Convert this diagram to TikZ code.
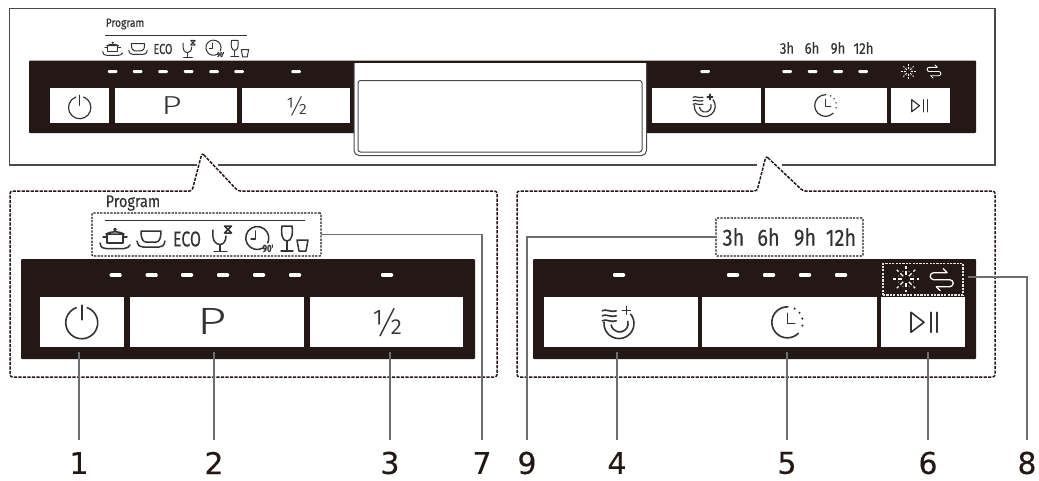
\documentclass[tikz,border=0pt]{standalone}
\usepackage{fontspec}
\setmainfont{Liberation Sans}
\newfontfamily\numfont[FakeBold=.2]{DejaVu Sans}
\newfontfamily\panelfont[FakeStretch=.85,FakeBold=.3]{Fira Sans}
\newfontfamily\narrowfont[FakeStretch=.74,FakeBold=.3]{Fira Sans}
\newfontfamily\lightfont{Fira Sans Light}
\newfontfamily\wideP[FakeStretch=1.35]{Fira Sans Light}
\newcommand{\fsz}[1]{\fontsize{#1}{#1}\selectfont}
\definecolor{ink}{HTML}{231815}
\definecolor{frame}{HTML}{4A4A4A}
\definecolor{leader}{HTML}{6E6E6E}
\definecolor{tx}{HTML}{333333}
% \rectnode[style]{name}{x1}{y1}{x2}{y2}
\newcommand{\rectnode}[6][]{\node[inner sep=0,outer sep=0,minimum width={#5-#3},minimum height={#6-#4},#1] (#2) at ({(#3+#5)/2},{(#4+#6)/2}) {};}
\tikzset{
  outline/.style={draw=frame,line width=1.2pt},
  calloutline/.style={draw=ink,line width=1.5pt,dash pattern=on 3.2pt off 1.3pt,rounded corners=2.5pt},
  bar/.style={fill=ink,rounded corners=1pt},
  btn/.style={fill=white},
  led/.style={fill=white,rounded corners=1pt,inner sep=0,minimum width=12pt,minimum height=3.6pt},
  ledsmall/.style={led,minimum width=9.5pt,minimum height=3pt},
  lead/.style={draw=leader,line width=1.1pt},
  num/.style={font=\numfont\fsz{30},text=ink,inner sep=0,minimum height=46pt,minimum width=20pt,anchor=center},
  tinybox/.style={draw=ink,line width=1.1pt,dash pattern=on 2.2pt off 1.2pt,rounded corners=1pt},
  whitebox/.style={draw=white!90!black,line width=1.1pt,dash pattern=on 2.2pt off 1.2pt},
  picflip/.style={yscale=-1},
  iconlow/.style={picflip,draw=tx,line width=1.5pt,line cap=round,line join=round},
  icontop/.style={picflip,draw=tx,line width=1pt,line cap=round,line join=round,scale=.66},
  keylow/.style={picflip,draw=tx,line width=1.6pt,line cap=round,line join=round},
  keytop/.style={picflip,draw=tx,line width=1.2pt,line cap=round,line join=round,scale=.7},
  pics/poticon/.style={code={
    \draw[pic actions] (-9,-5) .. controls (-4,-8) and (4,-8) .. (9,-5) -- cycle;
    \draw[pic actions] (-8,-5) -- (-8,4) -- (8,4) -- (8,-5);
    \draw[pic actions] (-12,-2) -- (-8,-2) (8,-2) -- (12,-2);
    \draw[pic actions] (0,-9.5) circle (1);
    \draw[pic actions] (-15,4) .. controls (-14,9) and (-12,9.5) .. (-9,9.5) -- (9,9.5) .. controls (12,9.5) and (14,8) .. (15,6);
  }},
  pics/bowlicon/.style={code={
    \draw[pic actions] (-10,-8) -- (10,-8) .. controls (10,0) and (8,3) .. (5,3) -- (-5,3) .. controls (-8,3) and (-10,0) .. (-10,-8);
    \draw[pic actions] (-14,2) .. controls (-13,7) and (-11,8) .. (-8,8) -- (8,8) .. controls (11,8) and (13,7) .. (14,2);
  }},
  pics/glassicon/.style={code={
    \draw[pic actions] (-9,-9) .. controls (-10,1) and (-7,5.5) .. (-2,5.5) .. controls (1.5,5.5) and (4,2) .. (4,-3);
    \draw[pic actions] (-2,5.5) -- (-2,12) (-8,12.5) -- (5,12.5);
    \draw[pic actions] (2.5,-13) -- (9.5,-6) (9.5,-13) -- (2.5,-6) (3,-13) -- (9,-13) (3,-6) -- (9,-6);
  }},
  pics/clockninety/.style={code={
    \draw[pic actions] (5,8) arc[start angle=60,end angle=385,radius=11.5];
    \draw[pic actions] (-2.5,-9) -- (-2.5,-1) -- (-7,-1);
    \node[inner sep=0,text=tx,font=\narrowfont\bfseries\fsz{#1}] at (10,8.5) {90'};
  }},
  pics/glassesicon/.style={code={
    \draw[pic actions] (-13,-13) -- (-3,-13) .. controls (-2,-5) and (-3,2) .. (-8,2) .. controls (-13,2) and (-14,-5) .. (-13,-13) -- cycle;
    \draw[pic actions] (-8,2) -- (-8,11.5) (-14,12) -- (-2,12);
    \draw[pic actions] (2,1) -- (13,1) -- (11,12) -- (4,12) -- cycle;
  }},
  pics/powericon/.style={code={
    \draw[pic actions] (0,-17.5) -- (0,-3);
    \draw[pic actions] (5.5,-15) arc[start angle=-70,end angle=250,radius=16];
  }},
  pics/rinseicon/.style={code={
    \foreach \yy in {-12.5,-7.5,-2.5}
      \draw[pic actions] (-17,\yy) .. controls (-13,{\yy-2.5}) and (-10,{\yy+2}) .. (-3,\yy);
    \draw[pic actions] (7,-17) -- (7,-9) (3,-13) -- (11,-13);
    \draw[pic actions] (11.5,-9) arc[start angle=-38,end angle=185,radius=15];
    \draw[pic actions] (8.5,-2) arc[start angle=-15,end angle=170,radius=8.5];
  }},
  pics/clockicon/.style={code={
    \draw[pic actions] (11,11) arc[start angle=45,end angle=272,radius=15.5];
    \foreach \aa in {-62,-38,-14,12}
      \fill[tx] (\aa:15.5) circle (1.2);
    \draw[pic actions] (0,-9) -- (0,1) -- (7.5,1);
  }},
  pics/playicon/.style={code={
    \draw[pic actions] (-13,-10) -- (-13,10) -- (0,0) -- cycle;
    \draw[pic actions] (6.7,-10) -- (6.7,10) (12.7,-10) -- (12.7,10);
  }},
  pics/sunicon/.style={code={
    \foreach \aa in {0,45,...,315}
      \draw[draw=white,line width=#1] (\aa:4) -- (\aa:8) (\aa:10.5) -- (\aa:13);
    \foreach \aa in {22.5,67.5,...,337.5}
      \fill[white] (\aa:8) circle (.5);
  }},
  pics/loopicon/.style={code={
    \draw[draw=white,line width=#1,line cap=round,line join=round] (5,-7) -- (-8,-7) arc[start angle=270,end angle=90,radius=3.5] -- (8,0) arc[start angle=-90,end angle=90,radius=3.5] -- (-5,7);
    \draw[draw=white,line width=#1,line cap=round,line join=round] (1.5,-11) -- (5.5,-7) (-1.5,11) -- (-5.5,7);
  }},
}
\begin{document}
\begin{tikzpicture}[x=1pt,y=1pt,yscale=-1]
\useasboundingbox (0,0) rectangle (1039,480);
% top frame
\draw[outline] (197,165) -- (9.5,165) -- (9.5,8.5) -- (995,8.5) -- (995,165) -- (782,165);
\draw[outline] (218,165) -- (757,165);
% top panel
\rectnode[bar]{topbar}{29}{60.5}{976}{133}
\draw[fill=white,draw=frame,line width=1pt,rounded corners=5pt] (354,63) -- (354,155.5) -- (646.5,155.5) -- (646.5,63);
\fill[white] (354.6,63) rectangle (646,70);
\rectnode[draw=frame,line width=1pt,fill=white,rounded corners=2.5pt]{display}{358}{80.5}{642}{152}
\rectnode[btn]{tb1}{50}{87.5}{109}{122.5}
\rectnode[btn]{tb2}{114.5}{87.5}{237}{122.5}
\rectnode[btn]{tb3}{242}{87.5}{350}{122.5}
\rectnode[btn]{tb4}{652}{87.5}{761}{122.5}
\rectnode[btn]{tb5}{764.5}{87.5}{887}{122.5}
\rectnode[btn]{tb6}{891}{87.5}{950}{122.5}
\foreach \x [count=\i] in {112.7,137.7,163,188.7,214,239,296,705,787,812.5,838,863}
  \node[ledsmall] (tl\i) at (\x,71.5) {};
\node[inner sep=0,text=tx,font=\panelfont\fsz{12}] (tprog) at (125,24) {Program};
\draw[draw=tx,line width=.9pt] (105,35) -- (247,35);
\pic[icontop] at (112.7,49) {poticon};
\pic[icontop] at (138,49) {bowlicon};
\node[inner sep=0,text=tx,font=\narrowfont\fsz{14.5}] (teco) at (163,49) {ECO};
\pic[icontop] at (189,49) {glassicon};
\pic[icontop] at (214,49) {clockninety=7};
\pic[icontop] at (240,49) {glassesicon};
\foreach \x/\t/\n in {787/3h/a,812/6h/b,838/9h/c,863.5/12h/d}
  \node[inner sep=0,text=tx,font=\panelfont\fsz{15.5}] (th\n) at (\x,48) {\t};
\pic[keytop] at (79.7,107.5) {powericon};
\node[inner sep=0,text=tx,font=\wideP\fsz{26}] (tp) at (171.7,106) {P};
\node[inner sep=0,text=tx,font=\lightfont\fsz{24}] (th) at (296.7,106) {½};
\pic[keytop] at (705,106) {rinseicon};
\pic[keytop] at (825.5,105.5) {clockicon};
\pic[keytop,scale=.86] at (919.5,105.7) {playicon};
\pic[picflip,scale=.55] at (908.5,71.5) {sunicon=.8pt};
\pic[picflip,scale=.6] at (934,71.5) {loopicon=.9pt};
% callouts
\draw[calloutline] (202,153) -- (238,191) -- (497,191) -- (497,377) -- (10,377) -- (10,191) -- (192,191) -- cycle;
\draw[calloutline] (766,156) -- (803,191) -- (995,191) -- (995,377) -- (517,377) -- (517,191) -- (757,191) -- cycle;
% lower left panel
\rectnode[bar]{lbar}{21}{259}{475}{359}
\rectnode[btn]{b1}{39.5}{297}{124}{347}
\rectnode[btn]{b2}{130}{297}{304}{347}
\rectnode[btn]{b3}{310}{297}{463}{347}
\foreach \x [count=\i] in {115.7,151.7,187,223,259,295,387}
  \node[led] (ll\i) at (\x,275) {};
\node[inner sep=0,text=tx,font=\panelfont\fsz{17}] (lprog) at (133,203) {Program};
\rectnode[tinybox]{box7}{92}{213}{321}{256}
\draw[draw=tx,line width=1.1pt] (104.5,220.7) -- (305,220.7);
\pic[iconlow] at (115,239) {poticon};
\pic[iconlow] at (151,239) {bowlicon};
\node[inner sep=0,text=tx,font=\narrowfont\fsz{21.5}] (leco) at (187,239) {ECO};
\pic[iconlow] at (222,239) {glassicon};
\pic[iconlow] at (258,240) {clockninety=10.5};
\pic[iconlow] at (295,239) {glassesicon};
\pic[keylow] at (81.7,322.7) {powericon};
\node[inner sep=0,text=tx,font=\wideP\fsz{38}] (lp) at (212,321.7) {P};
\node[inner sep=0,text=tx,font=\lightfont\fsz{35}] (lh) at (387.7,322.7) {½};
% lower right panel
\rectnode[bar]{rbar}{533}{259}{976}{359}
\rectnode[btn]{b4}{544}{297}{698}{347}
\rectnode[btn]{b5}{702}{297}{877}{347}
\rectnode[btn]{b6}{881}{297}{965}{347}
\foreach \x [count=\i] in {619,733,769,805,841}
  \node[led] (lr\i) at (\x,275) {};
\rectnode[tinybox]{box9}{716}{218}{863}{256}
\foreach \x/\t/\n in {733.5/3h/a,768.5/6h/b,805/9h/c,841/12h/d}
  \node[inner sep=0,text=tx,font=\panelfont\fsz{23.5}] (lh\n) at (\x,237) {\t};
\rectnode[whitebox]{box8}{883}{263.5}{963}{295}
\pic[picflip] at (906,279) {sunicon=1.2pt};
\pic[picflip] at (941.7,279.7) {loopicon=1.3pt};
\pic[keylow] at (619.3,323.3) {rinseicon};
\pic[keylow] at (787.3,322.3) {clockicon};
\pic[keylow] at (924,322.3) {playicon};
% numbers
\foreach \x/\t in {79/1,214/2,390/3,482/7,527/9,617/4,787/5,928/6,1027/8}
  \node[num] (n\t) at (\x,463) {\t};
% leader starts
\coordinate (c1) at (79,352);
\coordinate (c2) at (214,352);
\coordinate (c3) at (390,352);
\coordinate (c4) at (617,352);
\coordinate (c5) at (787,352);
\coordinate (c6) at (928,352);
\coordinate (c8) at (968,277);
\foreach \t in {1,2,3,4,5,6}
  \draw[lead] (c\t) -- (n\t.north);
\draw[lead] (box7.east) -| (n7.north);
\draw[lead] (box9.west) -| (n9.north);
\draw[lead] (c8) -| (n8.north);
\end{tikzpicture}
\end{document}
